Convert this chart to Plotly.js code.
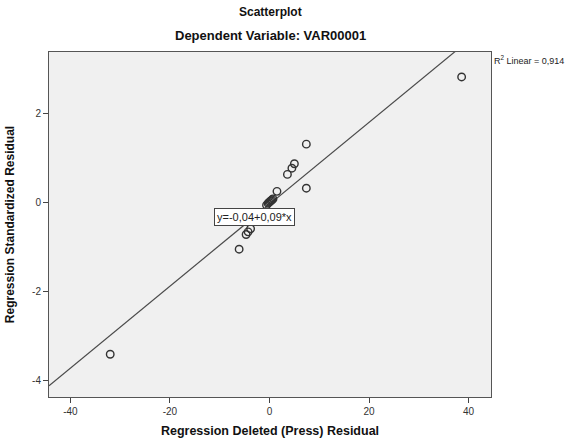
<!DOCTYPE html>
<html>
<head>
<meta charset="utf-8">
<script src="https://cdn.plot.ly/plotly-3.0.1.min.js"></script>
<style>html,body{margin:0;padding:0;background:#fff;}#chart{width:567px;height:443px;}</style>
</head>
<body>
<div id="chart"></div>
<script>
// Data
const deletedResidual = [-32.0, 38.6, -6.1, -4.7, -4.3, -3.8, -0.6, -0.3, -0.1, 0.1, 0.3, 0.5, 0.7, 1.5, 3.6, 4.5, 5.0, 7.4, 7.4];
const standardizedResidual = [-3.41, 2.82, -1.05, -0.72, -0.66, -0.59, -0.06, -0.02, 0.0, 0.02, 0.04, 0.06, 0.08, 0.25, 0.63, 0.77, 0.87, 1.31, 0.32];
const fitIntercept = -0.04;
const fitSlope = 0.092;
const fitLabel = "y=-0,04+0,09*x";
const r2Label = "R<sup>2</sup> Linear = 0,914";
const xTicks = [-40, -20, 0, 20, 40];
const yTicks = [-4, -2, 0, 2];
const xRange = [-44.3, 44.5];
const yRange = [-4.37, 3.38];

const lineX = [xRange[0], xRange[1]];
const lineY = lineX.map(x => fitIntercept + fitSlope * x);

const font = "Liberation Sans, Arial, sans-serif";

const traces = [
  {
    x: lineX, y: lineY, mode: "lines", type: "scatter",
    line: {color: "#4a4a4a", width: 1.2}, hoverinfo: "skip", showlegend: false
  },
  {
    x: deletedResidual, y: standardizedResidual, mode: "markers", type: "scatter",
    marker: {symbol: "circle-open", size: 7.5, color: "#333", line: {width: 1.4, color: "#333"}},
    showlegend: false, cliponaxis: false
  }
];

const layout = {
  width: 567, height: 443,
  margin: {l: 49, r: 76, t: 52, b: 46},
  paper_bgcolor: "#ffffff",
  plot_bgcolor: "#f0f0f0",
  font: {family: font, size: 10, color: "#222"},
  showlegend: false,
  xaxis: {
    range: xRange, tickvals: xTicks, ticktext: xTicks.map(String),
    showgrid: false, zeroline: false, ticks: "outside", ticklen: 5, tickcolor: "#444", tickwidth: 1,
    showline: true, linecolor: "#555", linewidth: 1, mirror: true,
    tickfont: {family: font, size: 10, color: "#333"},
    title: {text: "<b>Regression Deleted (Press) Residual</b>", font: {family: font, size: 12.5, color: "#111"}, standoff: 10}
  },
  yaxis: {
    range: yRange, tickvals: yTicks, ticktext: yTicks.map(String),
    showgrid: false, zeroline: false, ticks: "outside", ticklen: 5, tickcolor: "#444", tickwidth: 1,
    showline: true, linecolor: "#555", linewidth: 1, mirror: true,
    tickfont: {family: font, size: 10, color: "#333"},
    title: {text: "<b>Regression Standardized Residual</b>", font: {family: font, size: 12, color: "#111"}, standoff: 14}
  },
  annotations: [
    {xref: "paper", yref: "paper", x: 0.5, y: 1, yshift: 40, xanchor: "center", yanchor: "middle",
     text: "<b>Scatterplot</b>", showarrow: false, font: {family: font, size: 12, color: "#111"}},
    {xref: "paper", yref: "paper", x: 0.5, y: 1, yshift: 17, xanchor: "center", yanchor: "middle",
     text: "<b>Dependent Variable: VAR00001</b>", showarrow: false, font: {family: font, size: 13, color: "#111"}},
    {xref: "paper", yref: "paper", x: 1, y: 1, xshift: 1, yshift: -8, xanchor: "left", yanchor: "middle",
     text: r2Label, showarrow: false, font: {family: font, size: 9, color: "#222"}},
    {xref: "x", yref: "y", x: -3.07, y: -0.33, xanchor: "center", yanchor: "middle",
     text: fitLabel, showarrow: false, font: {family: font, size: 11, color: "#222"},
     bgcolor: "#ffffff", bordercolor: "#444", borderwidth: 1, borderpad: 2}
  ]
};

Plotly.newPlot("chart", traces, layout, {displayModeBar: false, staticPlot: true});
</script>
</body>
</html>
